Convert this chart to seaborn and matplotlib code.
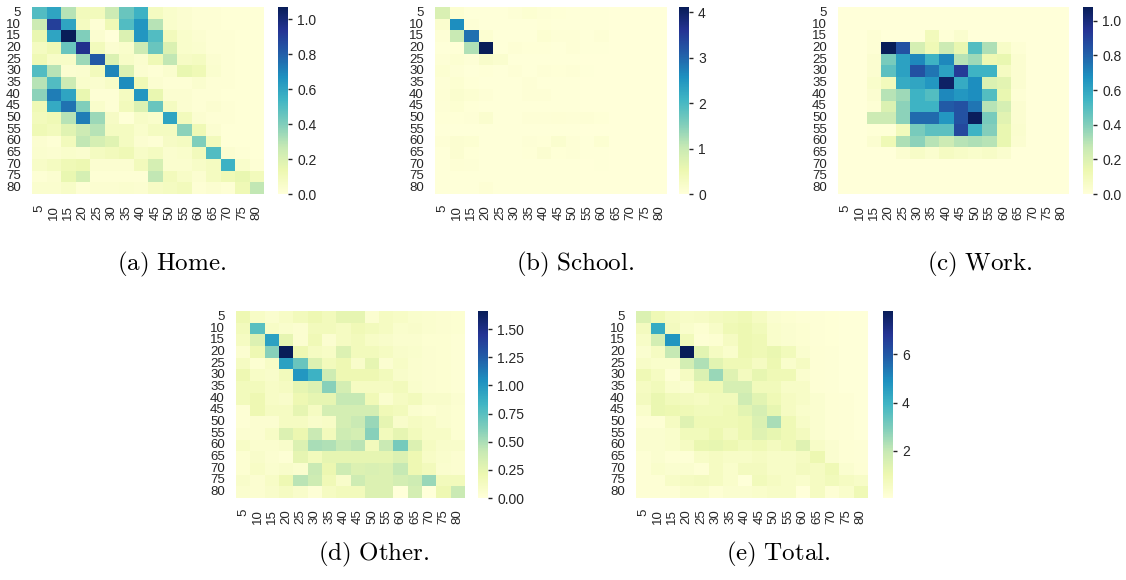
import numpy as np
import pandas as pd
import matplotlib
matplotlib.use("Agg")
import matplotlib.pyplot as plt
import matplotlib.ticker as mticker
import seaborn as sns

ages = [5, 10, 15, 20, 25, 30, 35, 40, 45, 50, 55, 60, 65, 70, 75, 80]

home = [
    [0.50, 0.60, 0.30, 0.10, 0.10, 0.25, 0.45, 0.55, 0.08, 0.05, 0.03, 0.02, 0.02, 0.01, 0.01, 0.01],
    [0.25, 0.90, 0.60, 0.08, 0.02, 0.12, 0.50, 0.65, 0.30, 0.05, 0.03, 0.02, 0.02, 0.01, 0.01, 0.01],
    [0.15, 0.60, 1.07, 0.40, 0.03, 0.00, 0.20, 0.65, 0.50, 0.10, 0.05, 0.03, 0.02, 0.02, 0.01, 0.01],
    [0.08, 0.12, 0.45, 0.95, 0.10, 0.03, 0.05, 0.25, 0.45, 0.20, 0.05, 0.04, 0.02, 0.02, 0.01, 0.01],
    [0.12, 0.06, 0.06, 0.35, 0.82, 0.20, 0.06, 0.04, 0.12, 0.28, 0.07, 0.08, 0.03, 0.02, 0.01, 0.01],
    [0.50, 0.30, 0.03, 0.04, 0.10, 0.70, 0.20, 0.03, 0.02, 0.04, 0.15, 0.12, 0.04, 0.02, 0.01, 0.01],
    [0.30, 0.50, 0.25, 0.05, 0.04, 0.06, 0.68, 0.12, 0.03, 0.02, 0.02, 0.04, 0.02, 0.02, 0.01, 0.01],
    [0.38, 0.72, 0.60, 0.15, 0.02, 0.02, 0.08, 0.65, 0.15, 0.03, 0.03, 0.02, 0.02, 0.01, 0.01, 0.01],
    [0.12, 0.58, 0.75, 0.40, 0.05, 0.02, 0.10, 0.20, 0.45, 0.08, 0.03, 0.02, 0.03, 0.02, 0.01, 0.01],
    [0.10, 0.12, 0.30, 0.72, 0.35, 0.07, 0.01, 0.06, 0.05, 0.60, 0.10, 0.03, 0.02, 0.02, 0.01, 0.01],
    [0.12, 0.10, 0.18, 0.25, 0.30, 0.08, 0.08, 0.05, 0.08, 0.08, 0.38, 0.12, 0.03, 0.01, 0.01, 0.01],
    [0.03, 0.02, 0.10, 0.28, 0.22, 0.18, 0.08, 0.03, 0.02, 0.07, 0.08, 0.40, 0.10, 0.01, 0.01, 0.01],
    [0.04, 0.03, 0.05, 0.04, 0.08, 0.10, 0.12, 0.06, 0.08, 0.04, 0.05, 0.10, 0.50, 0.03, 0.02, 0.01],
    [0.06, 0.08, 0.12, 0.13, 0.03, 0.03, 0.03, 0.10, 0.22, 0.04, 0.04, 0.06, 0.08, 0.55, 0.05, 0.02],
    [0.02, 0.03, 0.15, 0.22, 0.02, 0.02, 0.02, 0.02, 0.28, 0.10, 0.06, 0.03, 0.08, 0.12, 0.15, 0.10],
    [0.04, 0.04, 0.06, 0.02, 0.03, 0.03, 0.04, 0.03, 0.07, 0.08, 0.10, 0.02, 0.03, 0.02, 0.12, 0.28],
]

school = [
    [0.80, 0.10, 0.02, 0.03, 0.02, 0.05, 0.10, 0.05, 0.04, 0.03, 0.02, 0.02, 0.01, 0.01, 0.00, 0.00],
    [0.15, 2.60, 0.05, 0.03, 0.02, 0.02, 0.03, 0.04, 0.03, 0.03, 0.02, 0.02, 0.01, 0.01, 0.00, 0.00],
    [0.05, 1.00, 2.90, 0.10, 0.02, 0.02, 0.02, 0.10, 0.05, 0.06, 0.03, 0.05, 0.01, 0.01, 0.00, 0.00],
    [0.03, 0.04, 1.20, 4.12, 0.02, 0.08, 0.04, 0.04, 0.03, 0.06, 0.03, 0.03, 0.01, 0.01, 0.00, 0.00],
    [0.05, 0.10, 0.05, 0.20, 0.15, 0.02, 0.02, 0.03, 0.02, 0.02, 0.01, 0.01, 0.01, 0.00, 0.00, 0.00],
    [0.10, 0.06, 0.03, 0.04, 0.03, 0.05, 0.03, 0.06, 0.04, 0.06, 0.02, 0.01, 0.01, 0.00, 0.00, 0.00],
    [0.06, 0.10, 0.04, 0.03, 0.02, 0.02, 0.05, 0.03, 0.03, 0.02, 0.01, 0.01, 0.01, 0.00, 0.00, 0.00],
    [0.08, 0.15, 0.10, 0.05, 0.03, 0.03, 0.06, 0.06, 0.03, 0.02, 0.01, 0.01, 0.01, 0.00, 0.00, 0.00],
    [0.06, 0.10, 0.04, 0.03, 0.02, 0.02, 0.03, 0.03, 0.02, 0.02, 0.01, 0.01, 0.01, 0.00, 0.00, 0.00],
    [0.04, 0.04, 0.05, 0.15, 0.03, 0.02, 0.05, 0.06, 0.08, 0.05, 0.08, 0.04, 0.01, 0.00, 0.00, 0.00],
    [0.03, 0.03, 0.02, 0.02, 0.02, 0.02, 0.02, 0.02, 0.02, 0.02, 0.01, 0.01, 0.01, 0.00, 0.00, 0.00],
    [0.05, 0.12, 0.10, 0.03, 0.02, 0.03, 0.06, 0.04, 0.15, 0.05, 0.03, 0.10, 0.01, 0.00, 0.00, 0.00],
    [0.03, 0.12, 0.04, 0.03, 0.03, 0.03, 0.04, 0.12, 0.04, 0.06, 0.02, 0.02, 0.01, 0.00, 0.00, 0.00],
    [0.03, 0.08, 0.05, 0.02, 0.02, 0.02, 0.03, 0.02, 0.02, 0.02, 0.01, 0.03, 0.01, 0.00, 0.00, 0.00],
    [0.02, 0.02, 0.02, 0.02, 0.02, 0.02, 0.02, 0.02, 0.02, 0.02, 0.01, 0.01, 0.01, 0.00, 0.00, 0.00],
    [0.02, 0.02, 0.03, 0.08, 0.02, 0.02, 0.02, 0.02, 0.02, 0.02, 0.01, 0.01, 0.01, 0.00, 0.00, 0.00],
]

work = [
    [0.00, 0.00, 0.00, 0.00, 0.00, 0.00, 0.00, 0.00, 0.00, 0.00, 0.00, 0.00, 0.00, 0.00, 0.00, 0.00],
    [0.00, 0.00, 0.00, 0.00, 0.00, 0.00, 0.00, 0.00, 0.00, 0.00, 0.00, 0.00, 0.00, 0.00, 0.00, 0.00],
    [0.00, 0.00, 0.02, 0.00, 0.00, 0.00, 0.10, 0.01, 0.04, 0.00, 0.00, 0.00, 0.00, 0.00, 0.00, 0.00],
    [0.00, 0.00, 0.02, 1.08, 0.85, 0.22, 0.12, 0.25, 0.15, 0.50, 0.32, 0.06, 0.02, 0.00, 0.00, 0.00],
    [0.00, 0.00, 0.03, 0.42, 0.62, 0.70, 0.55, 0.70, 0.30, 0.35, 0.13, 0.15, 0.03, 0.00, 0.00, 0.00],
    [0.00, 0.00, 0.03, 0.48, 0.62, 0.85, 0.75, 0.62, 0.92, 0.55, 0.55, 0.08, 0.03, 0.00, 0.00, 0.00],
    [0.00, 0.00, 0.05, 0.10, 0.58, 0.60, 0.65, 1.05, 0.58, 0.68, 0.20, 0.17, 0.03, 0.00, 0.00, 0.00],
    [0.00, 0.00, 0.03, 0.30, 0.35, 0.55, 0.50, 0.70, 0.65, 0.68, 0.50, 0.15, 0.02, 0.00, 0.00, 0.00],
    [0.00, 0.00, 0.02, 0.20, 0.38, 0.55, 0.55, 0.82, 0.85, 0.75, 0.30, 0.22, 0.03, 0.00, 0.00, 0.00],
    [0.00, 0.00, 0.25, 0.25, 0.38, 0.78, 0.78, 0.65, 0.85, 1.07, 0.42, 0.18, 0.03, 0.00, 0.00, 0.00],
    [0.00, 0.00, 0.01, 0.01, 0.10, 0.42, 0.48, 0.48, 0.88, 0.55, 0.40, 0.15, 0.04, 0.00, 0.00, 0.00],
    [0.00, 0.00, 0.03, 0.12, 0.32, 0.38, 0.30, 0.25, 0.30, 0.32, 0.30, 0.15, 0.03, 0.00, 0.00, 0.00],
    [0.00, 0.00, 0.00, 0.00, 0.03, 0.06, 0.04, 0.08, 0.06, 0.05, 0.06, 0.04, 0.00, 0.00, 0.00, 0.00],
    [0.00, 0.00, 0.00, 0.00, 0.00, 0.00, 0.00, 0.00, 0.00, 0.00, 0.00, 0.00, 0.00, 0.00, 0.00, 0.00],
    [0.00, 0.00, 0.00, 0.00, 0.00, 0.00, 0.00, 0.00, 0.00, 0.00, 0.00, 0.00, 0.00, 0.00, 0.00, 0.00],
    [0.00, 0.00, 0.00, 0.00, 0.00, 0.00, 0.00, 0.00, 0.00, 0.00, 0.00, 0.00, 0.00, 0.00, 0.00, 0.00],
]

other = [
    [0.20, 0.10, 0.06, 0.10, 0.15, 0.20, 0.15, 0.25, 0.25, 0.05, 0.12, 0.10, 0.07, 0.06, 0.05, 0.04],
    [0.15, 0.75, 0.10, 0.07, 0.05, 0.15, 0.15, 0.12, 0.18, 0.15, 0.12, 0.07, 0.08, 0.06, 0.05, 0.04],
    [0.12, 0.30, 0.95, 0.25, 0.05, 0.18, 0.05, 0.12, 0.15, 0.10, 0.08, 0.06, 0.06, 0.04, 0.04, 0.03],
    [0.05, 0.20, 0.60, 1.66, 0.20, 0.12, 0.10, 0.30, 0.15, 0.15, 0.12, 0.08, 0.07, 0.05, 0.04, 0.03],
    [0.12, 0.04, 0.10, 0.95, 0.70, 0.30, 0.15, 0.20, 0.08, 0.25, 0.05, 0.10, 0.06, 0.05, 0.04, 0.03],
    [0.20, 0.10, 0.08, 0.15, 1.00, 0.85, 0.38, 0.20, 0.20, 0.20, 0.15, 0.08, 0.06, 0.05, 0.04, 0.03],
    [0.15, 0.15, 0.10, 0.12, 0.25, 0.30, 0.60, 0.35, 0.12, 0.12, 0.12, 0.15, 0.07, 0.05, 0.04, 0.03],
    [0.15, 0.20, 0.10, 0.08, 0.20, 0.25, 0.25, 0.42, 0.42, 0.18, 0.06, 0.12, 0.15, 0.08, 0.08, 0.05],
    [0.03, 0.20, 0.12, 0.12, 0.25, 0.12, 0.35, 0.35, 0.35, 0.35, 0.18, 0.15, 0.06, 0.04, 0.06, 0.04],
    [0.03, 0.05, 0.05, 0.12, 0.12, 0.08, 0.10, 0.35, 0.40, 0.55, 0.25, 0.08, 0.12, 0.10, 0.06, 0.04],
    [0.05, 0.05, 0.10, 0.30, 0.22, 0.40, 0.15, 0.38, 0.35, 0.60, 0.15, 0.25, 0.15, 0.10, 0.10, 0.04],
    [0.10, 0.06, 0.06, 0.08, 0.30, 0.50, 0.48, 0.42, 0.45, 0.15, 0.40, 0.65, 0.30, 0.12, 0.08, 0.08],
    [0.04, 0.08, 0.05, 0.03, 0.25, 0.15, 0.25, 0.25, 0.25, 0.25, 0.25, 0.30, 0.20, 0.10, 0.07, 0.05],
    [0.04, 0.10, 0.06, 0.08, 0.06, 0.40, 0.22, 0.38, 0.30, 0.32, 0.30, 0.42, 0.20, 0.15, 0.06, 0.05],
    [0.08, 0.05, 0.10, 0.20, 0.45, 0.38, 0.18, 0.08, 0.38, 0.30, 0.30, 0.35, 0.38, 0.55, 0.15, 0.15],
    [0.06, 0.05, 0.08, 0.12, 0.08, 0.02, 0.12, 0.15, 0.15, 0.30, 0.30, 0.00, 0.35, 0.00, 0.20, 0.40],
]

total = [
    [1.5, 0.9, 0.6, 0.5, 0.55, 0.7, 0.8, 0.9, 0.6, 0.3, 0.25, 0.2, 0.15, 0.12, 0.1, 0.1],
    [0.7, 4.2, 0.7, 0.4, 0.25, 0.5, 0.9, 1.0, 0.8, 0.4, 0.3, 0.25, 0.15, 0.12, 0.1, 0.1],
    [0.5, 1.7, 4.8, 0.8, 0.2, 0.25, 0.6, 1.0, 0.9, 0.4, 0.3, 0.25, 0.15, 0.12, 0.1, 0.1],
    [0.3, 0.6, 2.0, 7.8, 1.3, 0.6, 0.4, 1.0, 0.9, 1.1, 0.8, 0.35, 0.2, 0.15, 0.1, 0.1],
    [0.5, 0.4, 0.4, 1.7, 2.3, 1.3, 0.9, 0.9, 0.6, 1.0, 0.4, 0.6, 0.2, 0.15, 0.1, 0.1],
    [0.9, 0.6, 0.2, 0.6, 1.5, 2.6, 1.4, 0.7, 1.2, 0.9, 0.9, 0.35, 0.2, 0.15, 0.1, 0.1],
    [0.6, 0.8, 0.4, 0.3, 0.9, 0.9, 1.6, 1.6, 0.8, 0.8, 0.5, 0.5, 0.2, 0.15, 0.1, 0.1],
    [0.7, 1.1, 0.8, 0.7, 0.6, 0.8, 0.8, 1.8, 1.3, 0.9, 0.6, 0.5, 0.3, 0.2, 0.15, 0.1],
    [0.4, 1.1, 1.0, 0.9, 0.8, 0.8, 0.9, 1.3, 1.6, 1.2, 0.6, 0.4, 0.3, 0.2, 0.15, 0.1],
    [0.2, 0.2, 0.6, 1.4, 0.9, 0.9, 0.9, 1.0, 1.5, 2.4, 0.9, 0.5, 0.3, 0.2, 0.15, 0.1],
    [0.3, 0.3, 0.4, 0.8, 0.8, 1.0, 0.7, 1.0, 1.4, 1.2, 0.9, 0.7, 0.3, 0.2, 0.15, 0.1],
    [0.3, 0.3, 0.4, 0.6, 1.1, 1.2, 1.0, 0.8, 0.9, 0.7, 0.9, 1.4, 0.5, 0.3, 0.2, 0.15],
    [0.2, 0.3, 0.2, 0.15, 0.5, 0.6, 0.5, 0.5, 0.6, 0.5, 0.5, 0.6, 1.0, 0.3, 0.2, 0.15],
    [0.2, 0.4, 0.3, 0.3, 0.2, 0.6, 0.4, 0.7, 0.7, 0.5, 0.5, 0.7, 0.6, 0.9, 0.3, 0.2],
    [0.2, 0.2, 0.5, 0.6, 0.7, 0.6, 0.4, 0.1, 0.8, 0.6, 0.5, 0.4, 0.6, 0.8, 0.6, 0.5],
    [0.2, 0.2, 0.2, 0.4, 0.4, 0.2, 0.3, 0.3, 0.4, 0.5, 0.5, 0.05, 0.6, 0.2, 0.4, 0.9],
]

captions = ["(a) Home.", "(b) School.", "(c) Work.", "(d) Other.", "(e) Total."]
cbar_steps = [0.2, 1, 0.2, 0.25, 2]
cbar_formats = ["%.1f", "%d", "%.1f", "%.2f", "%d"]

sns.set_theme(style="white")
plt.rcParams["font.family"] = ["Liberation Sans", "DejaVu Sans"]
plt.rcParams["mathtext.fontset"] = "cm"

W, H = 1126, 580
fig = plt.figure(figsize=(W / 100, H / 100), dpi=100)

def box(x, y, w, h):
    return [x / W, 1 - (y + h) / H, w / W, h / H]

panels = [
    (home, (32, 7, 232, 187), (278, 7, 10, 187), (172, 264)),
    (school, (435, 7, 232, 187), (679, 7, 10, 187), (575, 264)),
    (work, (838, 7, 231, 187), (1083, 7, 10, 187), (980, 264)),
    (other, (236, 311, 229, 187), (478, 311, 10, 187), (374, 554)),
    (total, (636, 311, 232, 187), (883, 311, 10, 187), (778, 554)),
]

for (mat, axb, cbb, cap_xy), cap, step, fmt in zip(panels, captions, cbar_steps, cbar_formats):
    ax = fig.add_axes(box(*axb))
    cax = fig.add_axes(box(*cbb))
    df = pd.DataFrame(mat, index=ages, columns=ages)
    sns.heatmap(df, ax=ax, cbar_ax=cax, cmap="YlGnBu",
                xticklabels=ages, yticklabels=ages)
    ax.tick_params(axis="x", labelsize=9.5, rotation=90, pad=2, colors=".15")
    ax.tick_params(axis="y", labelsize=9.5, rotation=0, pad=2, colors=".15")
    cax.yaxis.set_major_locator(mticker.MultipleLocator(step))
    cax.yaxis.set_major_formatter(mticker.FormatStrFormatter(fmt))
    cax.tick_params(labelsize=10, colors=".15", length=3, width=1)
    for s in cax.spines.values():
        s.set_visible(False)
    label = cap.split(" ", 1)
    fig.text(cap_xy[0] / W, 1 - cap_xy[1] / H,
             r"$\mathrm{" + label[0] + r"\ " + label[1] + "}$",
             ha="center", va="center", fontsize=18, color="black")

fig.savefig("out.png", dpi=100)
